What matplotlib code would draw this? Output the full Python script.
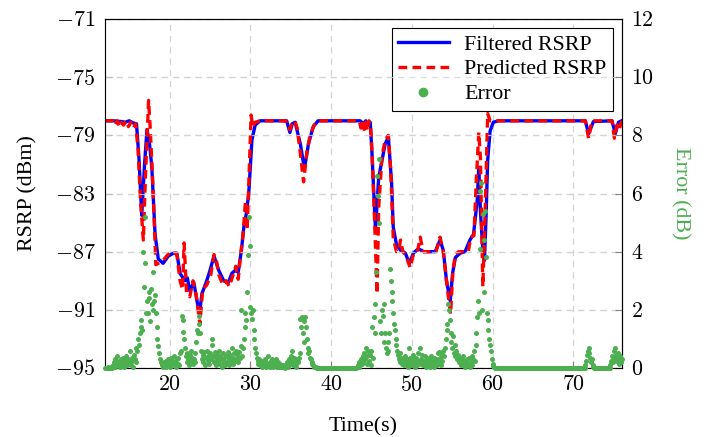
import numpy as np
import matplotlib
matplotlib.use('Agg')
import matplotlib.pyplot as plt
from matplotlib.lines import Line2D

plt.rcParams['font.family'] = ['Liberation Serif', 'DejaVu Serif']
plt.rcParams['mathtext.fontset'] = 'cm'

# ---------------- data ----------------
filt_t = [12.0, 13.0, 14.0, 14.5, 15.0, 15.5, 15.9, 16.2, 16.55, 16.9, 17.2, 17.5,
          17.8, 18.2, 18.6, 19.2, 19.85, 20.5, 20.9, 21.3, 21.9, 22.2, 22.5, 23.0,
          23.4, 23.7, 24.0, 24.6, 25.0, 25.5, 26.1, 26.7, 27.3, 27.7, 28.1, 28.5,
          28.9, 29.2, 29.5, 29.8, 30.0, 30.2, 30.6, 31.2, 34.5, 34.9, 35.2, 35.55,
          36.2, 36.7, 37.2, 37.8, 38.4, 43.6, 44.0, 44.3, 44.6, 44.85, 45.05, 45.5,
          45.9, 46.7, 47.1, 47.5, 47.7, 48.1, 48.6, 49.2, 49.7, 50.2, 50.8, 51.5,
          52.3, 52.9, 53.5, 53.9, 54.3, 54.76, 55.05, 55.4, 56.0, 56.6, 57.2, 57.65,
          58.1, 58.3, 58.5, 58.8, 59.0, 59.2, 59.4, 59.7, 60.1, 60.75, 71.5, 71.9,
          72.5, 74.8, 75.2, 75.6, 76.0]
filt_v = [-78.0, -78.0, -78.05, -78.1, -78.0, -78.15, -78.2, -80.5, -84.5, -81.0, -78.6, -79.5,
          -81.2, -85.8, -87.5, -87.8, -87.3, -87.1, -87.1, -88.5, -89.0, -88.8, -89.7, -89.1,
          -90.4, -91.3, -89.9, -89.0, -88.3, -87.3, -88.3, -89.0, -89.1, -88.5, -88.3, -88.4,
          -86.9, -85.3, -84.4, -83.0, -81.2, -79.3, -78.3, -78.0, -78.0, -78.8, -78.2, -78.1,
          -79.6, -81.3, -79.6, -78.4, -78.0, -78.0, -78.2, -78.0, -78.3, -78.1, -80.0, -85.5,
          -81.9, -79.6, -79.1, -82.3, -85.3, -86.5, -86.9, -87.1, -87.8, -87.1, -86.8, -87.0,
          -87.0, -87.0, -86.2, -86.9, -89.0, -90.4, -88.5, -87.4, -87.1, -87.0, -86.2, -85.8,
          -83.5, -81.2, -84.2, -86.9, -87.6, -84.6, -80.7, -78.7, -78.1, -78.0, -78.0, -78.9,
          -78.05, -78.0, -78.9, -78.1, -78.0]

pred_t = [12.0, 13.0, 13.3, 13.5, 13.8, 14.0, 14.3, 14.6, 14.9, 15.2, 15.5, 15.8,
          16.1, 16.4, 16.75, 17.0, 17.4, 17.6, 17.9, 18.3, 18.6, 19.2, 19.8, 20.4,
          20.9, 21.3, 21.6, 21.8, 22.1, 22.5, 22.9, 23.3, 23.75, 24.1, 24.6, 25.1,
          25.5, 25.8, 26.1, 26.6, 27.0, 27.4, 27.8, 28.2, 28.5, 28.8, 29.1, 29.4,
          29.6, 29.8, 30.1, 30.3, 30.6, 31.2, 34.4, 34.6, 34.9, 35.2, 35.5, 35.8,
          36.1, 36.6, 37.0, 37.4, 37.9, 38.4, 43.5, 43.7, 43.9, 44.1, 44.3, 44.5,
          44.7, 44.9, 45.1, 45.4, 45.7, 45.9, 46.3, 46.7, 47.1, 47.4, 47.7, 48.1,
          48.4, 48.6, 48.9, 49.3, 49.8, 50.2, 50.7, 51.05, 51.4, 52.3, 53.0, 53.5,
          53.9, 54.4, 54.8, 55.1, 55.4, 55.8, 56.5, 57.0, 57.3, 57.7, 58.0, 58.3,
          58.5, 58.8, 59.1, 59.4, 59.7, 60.1, 71.5, 71.9, 72.3, 74.8, 75.1, 75.4,
          75.7, 76.0]
pred_v = [-78.0, -78.0, -78.3, -78.0, -78.4, -78.1, -78.3, -78.0, -78.4, -78.1, -78.5, -78.2,
          -80.0, -83.5, -86.2, -82.0, -76.6, -78.5, -82.0, -87.9, -87.8, -87.6, -87.2, -87.0,
          -87.2, -89.0, -89.6, -86.4, -89.8, -90.1, -89.0, -90.0, -92.0, -89.6, -89.3, -88.6,
          -87.2, -87.6, -88.6, -89.3, -89.0, -89.4, -88.7, -88.0, -88.9, -87.2, -85.8, -83.5,
          -85.5, -82.5, -77.6, -78.4, -78.1, -78.0, -78.0, -78.4, -78.6, -78.1, -78.0, -78.5,
          -79.8, -82.2, -80.2, -79.0, -78.3, -78.0, -78.0, -78.5, -78.0, -78.6, -78.1, -78.7,
          -78.0, -78.4, -80.5, -85.0, -89.9, -84.0, -80.5, -79.3, -79.0, -81.5, -86.0, -87.0,
          -86.9, -86.2, -87.0, -87.3, -88.1, -87.2, -87.0, -86.0, -87.0, -87.0, -87.0, -86.0,
          -87.0, -89.5, -91.3, -88.3, -87.2, -87.0, -87.0, -87.0, -86.0, -85.9, -82.0, -78.8,
          -80.5, -89.4, -84.0, -77.5, -78.0, -78.0, -78.0, -79.2, -78.0, -78.0, -79.2, -78.3,
          -78.6, -78.0]

# error samples every 0.1 s starting at t = 12.0 s, one row per second
err_rows = [
    [0, 0, 0, 0, 0.05, 0, 0, 0.05, 0, 0],                              # 12
    [0.1, 0.2, 0.05, 0.3, 0.15, 0.4, 0.1, 0.25, 0.05, 0.2],             # 13
    [0.3, 0.1, 0.35, 0.2, 0.05, 0.25, 0.4, 0.1, 0.3, 0.15],             # 14
    [0.2, 0.6, 0.1, 0.35, 0.25, 0.05, 0.45, 0.3, 0.7, 0.2],             # 15
    [0.6, 1.0, 0.8, 1.2, 1.4, 1.65, 1.3, 4.0, 2.8, 5.2],                # 16
    [3.6, 1.9, 2.3, 1.9, 2.6, 2.4, 1.6, 2.7, 2.2, 2.0],                 # 17
    [3.3, 2.3, 2.5, 1.9, 1.4, 1.0, 0.75, 0.5, 0.3, 0.2],                # 18
    [0.15, 0.1, 0.05, 0.2, 0.1, 0.25, 0.05, 0.15, 0.3, 0.1],            # 19
    [0.2, 0.05, 0.35, 0.15, 0.25, 0.1, 0.4, 0.2, 0.05, 0.3],            # 20
    [0.15, 0.35, 0.1, 0.5, 0.6, 1.8, 1.25, 1.65, 1.0, 0.7],             # 21
    [0.4, 0.2, 0.5, 0.3, 0.1, 0.45, 0.25, 0.6, 0.35, 0.15],             # 22
    [0.3, 0.5, 0.2, 0.9, 1.3, 1.2, 1.5, 1.8, 1.2, 0.6],                 # 23
    [0.3, 0.45, 0.2, 0.55, 0.1, 0.35, 0.6, 0.25, 0.4, 0.15],            # 24
    [0.5, 0.3, 1.0, 0.8, 0.4, 0.2, 0.55, 0.35, 0.1, 0.45],              # 25
    [0.25, 0.6, 0.15, 0.4, 0.3, 0.05, 0.5, 0.2, 0.35, 0.1],             # 26
    [0.4, 0.2, 0.55, 0.3, 0.1, 0.45, 0.25, 0.7, 0.35, 0.15],            # 27
    [0.5, 0.25, 0.6, 0.3, 0.45, 0.2, 0.55, 0.35, 0.75, 2.0],            # 28
    [0.4, 0.7, 1.0, 1.4, 1.9, 1.65, 2.6, 3.9, 5.2, 4.2],                # 29
    [2.1, 1.9, 1.7, 2.0, 1.3, 1.0, 0.7, 0.5, 0.35, 0.25],               # 30
    [0.15, 0.3, 0.1, 0.2, 0.05, 0.25, 0.15, 0.1, 0.3, 0.05],            # 31
    [0.2, 0.1, 0.4, 0.15, 0.05, 0.25, 0.1, 0.3, 0.05, 0.15],            # 32
    [0.25, 0.1, 0.3, 0.05, 0.2, 0.1, 0.05, 0.15, 0.05, 0.1],            # 33
    [0.05, 0.1, 0.05, 0, 0.05, 0.1, 0.2, 0.05, 0.3, 0.15],              # 34
    [0.4, 0.25, 0.6, 0.1, 0.35, 0.2, 0.05, 0.15, 0.3, 0.2],             # 35
    [0.35, 0.5, 1.7, 1.4, 1.75, 1.2, 1.6, 0.9, 1.75, 1.4],              # 36
    [1.0, 0.7, 0.5, 0.6, 0.35, 0.3, 0.2, 0.15, 0.1, 0.05],              # 37
    [0.05, 0.02, 0, 0, 0, 0, 0, 0, 0, 0],                               # 38
    [0, 0, 0, 0, 0, 0, 0, 0, 0, 0],                                     # 39
    [0, 0, 0, 0, 0, 0, 0, 0, 0, 0],                                     # 40
    [0, 0, 0, 0, 0, 0, 0, 0, 0, 0],                                     # 41
    [0, 0, 0, 0, 0, 0, 0, 0, 0, 0],                                     # 42
    [0, 0, 0.05, 0.1, 0.05, 0.2, 0.1, 0.3, 0.15, 0.4],                  # 43
    [0.2, 0.5, 0.3, 0.7, 0.15, 0.4, 0.6, 0.25, 0.45, 0.1],              # 44
    [0.6, 1.4, 0.35, 1.77, 1.2, 2.2, 3.3, 6.6, 5.9, 7.2],               # 45
    [5.0, 1.6, 1.2, 2.0, 1.8, 2.2, 0.9, 1.2, 0.7, 0.5],                 # 46
    [0.6, 0.9, 1.2, 3.4, 3.0, 2.6, 2.3, 1.9, 1.5, 1.3],                 # 47
    [1.0, 0.8, 0.6, 0.45, 0.3, 0.5, 0.2, 0.35, 0.15, 0.3],              # 48
    [0.1, 0.25, 0.4, 0.15, 0.3, 0.05, 0.2, 0.7, 0.35, 0.1],             # 49
    [0.3, 0.15, 0.45, 0.2, 0.05, 0.35, 0.1, 0.25, 0.5, 0.2],            # 50
    [0.7, 0.3, 0.15, 0.45, 0.1, 0.25, 0.4, 0.05, 0.2, 0.35],            # 51
    [0.15, 0.3, 0.05, 0.2, 0.4, 0.1, 0.25, 0.05, 0.35, 0.15],           # 52
    [0.3, 0.1, 0.5, 0.2, 0.55, 0.35, 0.1, 0.45, 0.25, 0.6],             # 53
    [0.4, 0.7, 1.0, 1.5, 1.3, 2.2, 2.0, 1.65, 1.2, 0.9],                # 54
    [0.7, 1.1, 0.5, 0.8, 0.4, 0.6, 0.3, 0.45, 0.2, 0.35],               # 55
    [0.25, 0.1, 0.3, 0.15, 0.4, 0.2, 0.05, 0.25, 0.1, 0.3],             # 56
    [0.15, 0.35, 0.05, 0.2, 0.4, 0.1, 0.3, 0.6, 0.25, 1.2],             # 57
    [0.8, 1.77, 2.3, 1.9, 4.1, 6.1, 6.35, 2.0, 5.3, 4.4],               # 58
    [2.6, 5.4, 3.8, 1.9, 1.65, 1.3, 1.0, 0.8, 0.6, 0.3],                # 59
    [0.15, 0.08, 0.03, 0.01, 0, 0, 0, 0, 0, 0],                         # 60
    [0, 0, 0, 0, 0, 0, 0, 0, 0, 0],                                     # 61
    [0, 0, 0, 0, 0, 0, 0, 0, 0, 0],                                     # 62
    [0, 0, 0, 0, 0, 0, 0, 0, 0, 0],                                     # 63
    [0, 0, 0, 0, 0, 0, 0, 0, 0, 0],                                     # 64
    [0, 0, 0, 0, 0, 0, 0, 0, 0, 0],                                     # 65
    [0, 0, 0, 0, 0, 0, 0, 0, 0, 0],                                     # 66
    [0, 0, 0, 0, 0, 0, 0, 0, 0, 0],                                     # 67
    [0, 0, 0, 0, 0, 0, 0, 0, 0, 0],                                     # 68
    [0, 0, 0, 0, 0, 0, 0, 0, 0, 0],                                     # 69
    [0, 0, 0, 0, 0, 0, 0, 0, 0, 0],                                     # 70
    [0, 0, 0, 0, 0, 0.1, 0.25, 0.45, 0.6, 0.7],                         # 71
    [0.5, 0.35, 0.2, 0.3, 0.1, 0.05, 0, 0, 0, 0],                       # 72
    [0, 0, 0, 0, 0, 0, 0, 0, 0, 0],                                     # 73
    [0, 0, 0, 0, 0, 0, 0.1, 0.25, 0.4, 0.2],                            # 74
    [0.6, 0.35, 0.7, 0.45, 0.25, 0.5, 0.3, 0.15, 0.4, 0.2],             # 75
    [0.3],                                                              # 76
]
err_start = 12.0
err_step = 0.1

x_ticks = [20, 30, 40, 50, 60, 70]
rsrp_ticks = [-71, -75, -79, -83, -87, -91, -95]
err_ticks = [0, 2, 4, 6, 8, 10, 12]

BLUE = '#0000ff'
RED = '#ff0000'
GREEN = '#4caf50'
GRID = '#d4d4d4'
FS = 15.8

err_v = np.array([v for row in err_rows for v in row])
err_t = err_start + err_step * np.arange(len(err_v))

# ---------------- figure ----------------
fig = plt.figure(figsize=(7.08, 4.37), dpi=100)
ax = fig.add_axes([0.1483, 0.1579, 0.7298, 0.7986])
ax.set_xlim(12, 76)
ax.set_ylim(-95, -71)

ax.grid(True, axis='both', color=GRID, lw=0.9, ls=(0, (5, 4)))
ax.set_axisbelow(True)

l1, = ax.plot(filt_t, filt_v, color=BLUE, lw=2.4, zorder=3, label='Filtered RSRP')
l2, = ax.plot(pred_t, pred_v, color=RED, lw=2.4, zorder=4, dashes=(2.6, 1.6),
              label='Predicted RSRP')

ax.set_xticks(x_ticks)
ax.set_xticklabels([f'${v}$' for v in x_ticks])
ax.set_yticks(rsrp_ticks)
ax.set_yticklabels([f'${v}$' for v in rsrp_ticks])
ax.tick_params(direction='in', length=5, color='#808080', labelsize=FS, pad=7)
ax.tick_params(axis='x', pad=6)
for s in ['left', 'bottom']:
    ax.spines[s].set_color('#808080')
ax.spines['top'].set_color('black')

ax.set_xlabel('Time(s)', fontsize=FS)
ax.xaxis.set_label_coords(0.5, -0.14)
ax.set_ylabel('RSRP (dBm)', fontsize=FS)
ax.yaxis.set_label_coords(-0.13, 0.5)

ax2 = ax.twinx()
ax2.set_ylim(0, 12)
ax2.set_yticks(err_ticks)
ax2.set_yticklabels([f'${v}$' for v in err_ticks])
ax2.grid(True, axis='y', color=GRID, lw=0.9, ls=(0, (5, 4)), alpha=0.8)
ax2.tick_params(direction='in', length=5, color='#808080', labelsize=FS, pad=7)
ax2.spines['right'].set_color('black')
ax2.scatter(err_t, err_v, s=13, color=GREEN, zorder=5, linewidths=0, clip_on=False)
ax2.set_ylabel('Error (dB)', fontsize=FS, color=GREEN, rotation=-90, va='bottom')
ax2.yaxis.set_label_coords(1.095, 0.5)

h3 = Line2D([], [], ls='none', marker='o', markersize=6, color=GREEN)
leg = ax.legend([l1, l2, h3], ['Filtered RSRP', 'Predicted RSRP', 'Error'],
                loc='upper right', fontsize=FS, frameon=True, fancybox=False,
                edgecolor='black', framealpha=1, borderaxespad=0.4,
                handlelength=2.3, handletextpad=0.7, labelspacing=0.2,
                borderpad=0.3)
leg.get_frame().set_linewidth(0.8)
leg.set_zorder(10)

fig.savefig('out.png', dpi=100)
